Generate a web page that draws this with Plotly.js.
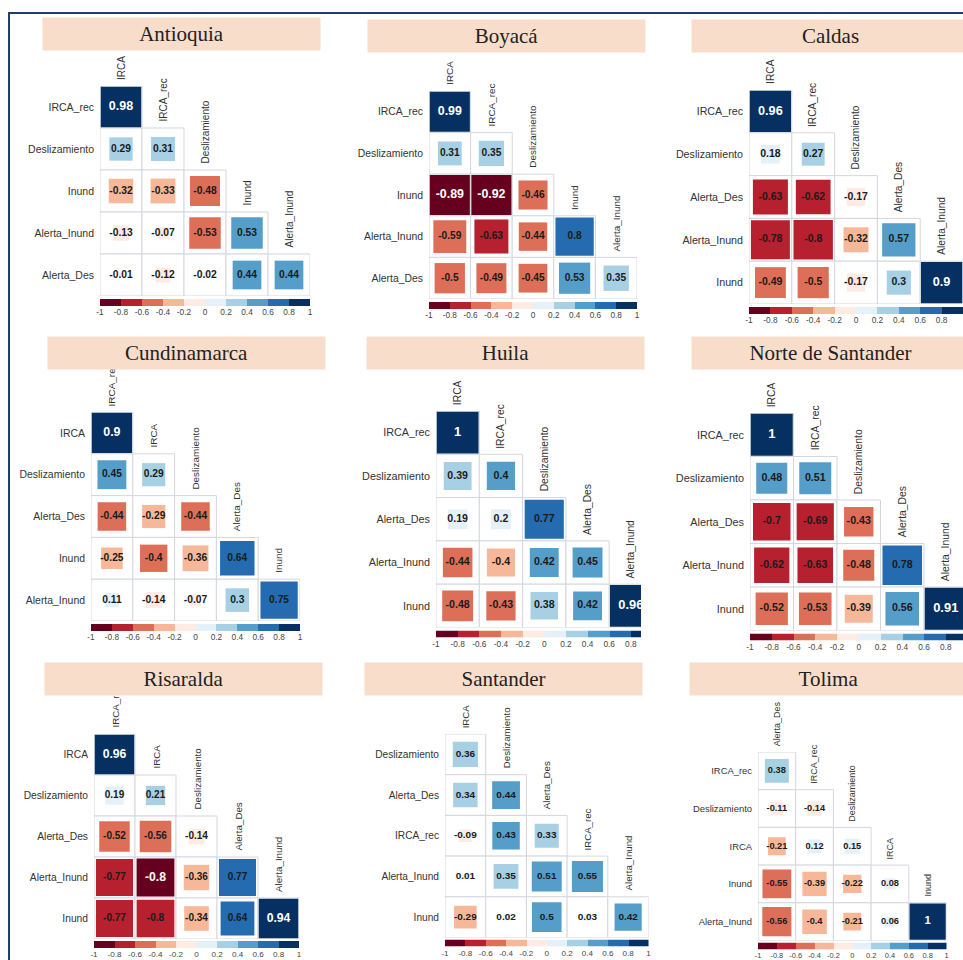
<!DOCTYPE html>
<html><head><meta charset="utf-8">
<script src="https://cdn.plot.ly/plotly-3.0.1.min.js"></script>
<style>html,body{margin:0;padding:0;background:#fff}</style>
</head><body><div id="chart" style="width:963px;height:960px"></div>
<script>
// ---------- DATA ----------
const titles = ['Antioquia','Boyacá','Caldas','Cundinamarca','Huila','Norte de Santander','Risaralda','Santander','Tolima'];

const varsAntioquia = ['IRCA','IRCA_rec','Deslizamiento','Inund','Alerta_Inund','Alerta_Des'];
const corrAntioquia = [[0.98],[0.29,0.31],[-0.32,-0.33,-0.48],[-0.13,-0.07,-0.53,0.53],[-0.01,-0.12,-0.02,0.44,0.44]];

const varsBoyaca = ['IRCA','IRCA_rec','Deslizamiento','Inund','Alerta_Inund','Alerta_Des'];
const corrBoyaca = [[0.99],[0.31,0.35],[-0.89,-0.92,-0.46],[-0.59,-0.63,-0.44,0.798],[-0.5,-0.49,-0.45,0.53,0.35]];

const varsCaldas = ['IRCA','IRCA_rec','Deslizamiento','Alerta_Des','Alerta_Inund','Inund'];
const corrCaldas = [[0.96],[0.18,0.27],[-0.63,-0.62,-0.17],[-0.78,-0.798,-0.32,0.57],[-0.49,-0.5,-0.17,0.3,0.9]];

const varsCundinamarca = ['IRCA_rec','IRCA','Deslizamiento','Alerta_Des','Inund','Alerta_Inund'];
const corrCundinamarca = [[0.9],[0.45,0.29],[-0.44,-0.29,-0.44],[-0.25,-0.403,-0.36,0.64],[0.11,-0.14,-0.07,0.3,0.75]];

const varsHuila = ['IRCA','IRCA_rec','Deslizamiento','Alerta_Des','Alerta_Inund','Inund'];
const corrHuila = [[1],[0.39,0.402],[0.19,0.198,0.77],[-0.44,-0.398,0.42,0.45],[-0.48,-0.43,0.38,0.42,0.96]];

const varsNorte = ['IRCA','IRCA_rec','Deslizamiento','Alerta_Des','Alerta_Inund','Inund'];
const corrNorte = [[1],[0.48,0.51],[-0.7,-0.69,-0.43],[-0.62,-0.63,-0.48,0.78],[-0.52,-0.53,-0.39,0.56,0.91]];

const varsRisaralda = ['IRCA_rec','IRCA','Deslizamiento','Alerta_Des','Alerta_Inund','Inund'];
const corrRisaralda = [[0.96],[0.19,0.21],[-0.52,-0.56,-0.14],[-0.77,-0.802,-0.36,0.77],[-0.77,-0.798,-0.34,0.64,0.94]];

const varsSantander = ['IRCA','Deslizamiento','Alerta_Des','IRCA_rec','Alerta_Inund','Inund'];
const corrSantander = [[0.36],[0.34,0.44],[-0.09,0.43,0.33],[0.01,0.35,0.51,0.55],[-0.29,0.02,0.5,0.03,0.42]];

const varsTolima = ['Alerta_Des','IRCA_rec','Deslizamiento','IRCA','Inund','Alerta_Inund'];
const corrTolima = [[0.38],[-0.11,-0.14],[-0.21,0.12,0.15],[-0.55,-0.39,-0.22,0.08],[-0.56,-0.398,-0.21,0.06,1]];

const cbTicks = [-1,-0.8,-0.6,-0.4,-0.2,0,0.2,0.4,0.6,0.8,1];
const cbTickText = ['-1','-0.8','-0.6','-0.4','-0.2','0','0.2','0.4','0.6','0.8','1'];
const binCenters = [-0.9,-0.7,-0.5,-0.3,-0.1,0.1,0.3,0.5,0.7,0.9];
const binIndex = [0,1,2,3,4,5,6,7,8,9];

// ---------- STYLE / LAYOUT CONFIG ----------
const binColors = ['#67001F','#B6202F','#DD6F59','#F7B799','#FEEBE3','#E4F1F8','#A7D0E4','#559EC9','#256BAF','#053061'];
const panelVars = [varsAntioquia,varsBoyaca,varsCaldas,varsCundinamarca,varsHuila,varsNorte,varsRisaralda,varsSantander,varsTolima];
const panelCorr = [corrAntioquia,corrBoyaca,corrCaldas,corrCundinamarca,corrHuila,corrNorte,corrRisaralda,corrSantander,corrTolima];
const geom = [
  {tx:43, ty:18, x0:100, y0:86, cell:42,   cbGap:3},
  {tx:368,ty:20, x0:429, y0:91, cell:41.6, cbGap:3},
  {tx:692,ty:20, x0:749, y0:90, cell:42.8, cbGap:3},
  {tx:48, ty:337,x0:91,  y0:412,cell:41.8, cbGap:3},
  {tx:367,ty:337,x0:436, y0:411,cell:43.3, cbGap:3, clipR:641},
  {tx:692,ty:337,x0:750, y0:413,cell:43.5, cbGap:3},
  {tx:45, ty:663,x0:94,  y0:734,cell:41,   cbGap:2},
  {tx:365,ty:663,x0:445, y0:734,cell:40.7, cbGap:2},
  {tx:690,ty:663,x0:758, y0:752,cell:37.7, cbGap:2}
];
const W = 963, H = 960;
const SANS = 'Liberation Sans, Arial, sans-serif';
const SERIF = 'Liberation Serif, Times New Roman, serif';

function binOf(v){ return Math.max(0, Math.min(9, Math.floor((v+1)/0.2 + 1e-9))); }
function fmt(v){ return String(Math.round(v*100)/100); }

const traces = [];
const layout = {
  width:W, height:H, margin:{l:0,r:0,t:0,b:0}, paper_bgcolor:'#fff', plot_bgcolor:'rgba(0,0,0,0)',
  showlegend:false, annotations:[], shapes:[]
};
const colAnn = [], titleAnn = [];

panelVars.forEach((vars,p)=>{
  const g = geom[p], R = panelCorr[p], s = g.cell/42;
  const n = 2*p+1, m = 2*p+2;
  const xa = 'x'+n, ya = 'y'+n, xb = 'x'+m, yb = 'y'+m;
  const xaN = n===1 ? 'xaxis' : 'xaxis'+n, yaN = n===1 ? 'yaxis' : 'yaxis'+n;
  const xbN = 'xaxis'+m, ybN = 'yaxis'+m;
  const right = Math.min(g.clipR || W, g.x0 + 5*g.cell);
  const wpx = right - g.x0;
  const bottom = g.y0 + 5*g.cell;

  layout[xaN] = {domain:[g.x0/W, right/W], range:[-0.5, -0.5 + wpx/g.cell], visible:false, fixedrange:true, anchor:ya};
  layout[yaN] = {domain:[1-bottom/H, 1-g.y0/H], range:[5.5,0.5], tickmode:'array', tickvals:[1,2,3,4,5],
    ticktext:vars.slice(1), showgrid:false, zeroline:false, showline:false, ticks:'', anchor:xa,
    ticklabelstandoff:5, tickfont:{family:SANS, size:10.5*s, color:'#333'}, fixedrange:true};

  const cx=[], cy=[], cv=[];
  R.forEach((row,i)=>row.forEach((v,j)=>{cx.push(j); cy.push(i+1); cv.push(v);}));

  traces.push({type:'scatter', mode:'markers', x:cx, y:cy, xaxis:xa, yaxis:ya, hoverinfo:'skip',
    marker:{symbol:'square', size:g.cell, color:'#fff', opacity:1, line:{color:'#d3d7de', width:1}}});
  traces.push({type:'scatter', mode:'markers', x:cx, y:cy, xaxis:xa, yaxis:ya, hoverinfo:'skip',
    marker:{symbol:'square', opacity:1,
      size:cv.map(v=>Math.max(1, Math.min(g.cell-1.5, Math.sqrt(Math.abs(v))*g.cell*1.03))),
      color:cv.map(v=>binColors[binOf(v)]), line:{width:0}}});
  traces.push({type:'scatter', mode:'text', x:cx, y:cy, xaxis:xa, yaxis:ya, hoverinfo:'skip', cliponaxis:false,
    text:cv.map(fmt), textposition:'middle center',
    textfont:{family:SANS, weight:700,
      size:cv.map(v=>{const b=binOf(v); return (b===0||b===9) ? 12.5*s : 10.3*s;}),
      color:cv.map(v=>{const b=binOf(v); return (b===0||b===9) ? '#ffffff' : '#1a1a1a';})}});

  // colour legend bar
  const cbTop = bottom + g.cbGap;
  traces.push({type:'heatmap', x:binCenters, y:[0], z:[binIndex], xaxis:xb, yaxis:yb, zmin:0, zmax:9,
    colorscale: binColors.map((c,k)=>[k/9, c]), showscale:false, hoverinfo:'skip'});
  layout[xbN] = {domain:[g.x0/W, right/W], range:[-1, -1 + 2*wpx/(5*g.cell)], tickmode:'array', tickvals:cbTicks,
    ticktext:cbTickText, ticks:'', showgrid:false, zeroline:false, showline:false, anchor:yb, side:'bottom',
    ticklabelstandoff:0, tickfont:{family:SANS, size:Math.min(8.3, 8.3*s), color:'#444'}, fixedrange:true};
  layout[ybN] = {domain:[1-(cbTop+7)/H, 1-cbTop/H], range:[-0.5,0.5], visible:false, anchor:xb, fixedrange:true};

  vars.slice(0,5).forEach((name,j)=>colAnn.push({xref:xa, yref:ya, x:j, y:j+0.5, text:name, textangle:-90,
    showarrow:false, xanchor:'center', yanchor:'bottom', yshift:4, font:{family:SANS, size:10*s, color:'#333'}}));

  titleAnn.push({xref:'paper', yref:'paper', x:(g.tx+138.5)/W, y:1-(g.ty+16)/H, xanchor:'center', yanchor:'middle',
    text:titles[p], showarrow:false, bgcolor:'#F9DDCB', width:277, height:32, borderpad:0,
    font:{family:SERIF, size:21, color:'#222'}});
});

layout.annotations = colAnn.concat(titleAnn);
layout.shapes.push({type:'rect', xref:'paper', yref:'paper', x0:9/W, x1:1.05, y0:-0.05, y1:1-13/H,
  line:{color:'#1f3c73', width:2}, fillcolor:'rgba(0,0,0,0)', layer:'below'});

Plotly.newPlot('chart', traces, layout, {staticPlot:true, displayModeBar:false});
</script></body></html>
